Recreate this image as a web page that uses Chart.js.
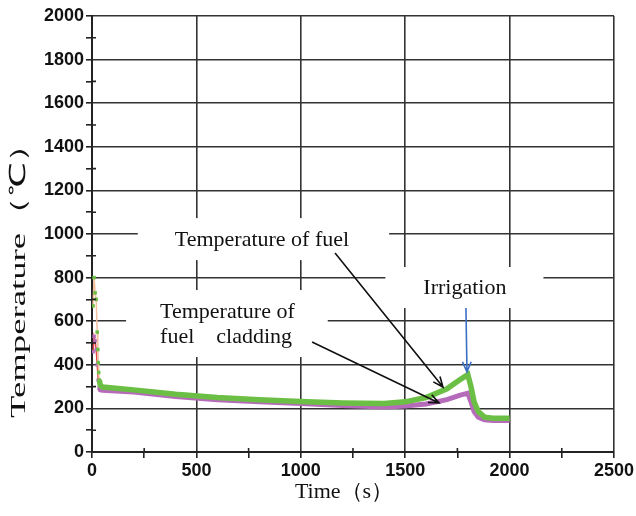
<!DOCTYPE html>
<html>
<head>
<meta charset="utf-8">
<script src="https://cdn.jsdelivr.net/npm/chart.js@4/dist/chart.umd.min.js"></script>
<style>
  body { margin: 0; background: #fff; }
  canvas { display: block; }
</style>
</head>
<body>
<canvas id="main_graphic" width="636" height="516"></canvas>
<script>
// fuel temperature (green curve)
const time_fuel = [5, 10, 15, 20, 25, 28, 30, 32, 35, 40, 50, 200, 400, 600, 800, 1000, 1200, 1400, 1500, 1600, 1700, 1760, 1800, 1815, 1830, 1850, 1880, 1920, 2000]
const temp_fuel = [670, 800, 730, 700, 550, 470, 410, 365, 330, 305, 298, 285, 265, 250, 240, 232, 225, 222, 230, 250, 290, 330, 355, 300, 230, 185, 160, 155, 155]

// cladding temperature (purple curve)
const time_cladding = [5, 10, 15, 20, 25, 30, 35, 40, 50, 200, 400, 600, 800, 1000, 1200, 1400, 1500, 1600, 1700, 1760, 1800, 1815, 1830, 1850, 1880, 1920, 2000]
const temp_cladding = [460, 530, 510, 470, 400, 330, 295, 285, 283, 275, 255, 240, 230, 222, 213, 207, 211, 220, 240, 260, 270, 230, 185, 160, 148, 145, 145]

// labelled ticks
const ticks_x = [0, 500, 1000, 1500, 2000, 2500]
const ticks_y = [0, 200, 400, 600, 800, 1000, 1200, 1400, 1600, 1800, 2000]

const title_x = 'Time（s）'
const title_y = 'Temperature（℃）'

const spike_end = 35
const serif = '"Liberation Serif", "Times New Roman", serif'

const to_points = (xs, ys) => xs.map((x, i) => ({x: x, y: ys[i]}))

// thin connector through the first seconds, thick line afterwards
const thin_segment = (cor) => ({
  borderColor: ctx => ctx.p1.parsed.x <= spike_end ? cor : undefined,
  borderWidth: ctx => ctx.p1.parsed.x <= spike_end ? 1.5 : undefined
})

const spike_radius = ctx => (ctx.raw && ctx.raw.x <= spike_end) ? 2.5 : 0

// text boxes (anchor in data units, box padding in px)
const labels = [
  {lines: ['Temperature of fuel'], x: 814, y: 972, align: 'center', pad: [37, 22, 40, 20]},
  {lines: ['Temperature of', 'fuel    cladding'], x: 326, y: 642, align: 'left', pad: [34, 22, 33, 20]},
  {lines: ['Irrigation'], x: 1786, y: 752, align: 'center', pad: [38, 21, 37, 20]}
]

const arrows = [
  {from: [1164, 913], to: [1681, 298], color: '#111'},
  {from: [1054, 505], to: [1662, 225], color: '#111'},
  {from: [1791, 661], to: [1796, 367], color: '#3b6fc4'}
]

const draw_arrow = (ctx, x0, y0, x1, y1, color) => {
  const ang = Math.atan2(y1 - y0, x1 - x0)
  const head = 11
  ctx.strokeStyle = color
  ctx.lineWidth = 1.6
  ctx.beginPath()
  ctx.moveTo(x0, y0)
  ctx.lineTo(x1, y1)
  ctx.moveTo(x1 - head * Math.cos(ang - 0.4), y1 - head * Math.sin(ang - 0.4))
  ctx.lineTo(x1, y1)
  ctx.lineTo(x1 - head * Math.cos(ang + 0.4), y1 - head * Math.sin(ang + 0.4))
  ctx.stroke()
}

const annotations = {
  id: 'annotations',
  afterDatasetsDraw(chart) {
    const {ctx, scales: {x, y}} = chart
    ctx.save()
    ctx.font = '22px ' + serif
    ctx.textBaseline = 'middle'
    const line_h = 25
    for (const lab of labels) {
      const px = x.getPixelForValue(lab.x)
      const py = y.getPixelForValue(lab.y)
      const w = Math.max(...lab.lines.map(l => ctx.measureText(l).width))
      const left = lab.align === 'center' ? px - w / 2 : px
      const top = py - lab.pad[1]
      const bottom = py + (lab.lines.length - 1) * line_h + lab.pad[3]
      ctx.fillStyle = '#fff'
      ctx.fillRect(left - lab.pad[0], top, w + lab.pad[0] + lab.pad[2], bottom - top)
      ctx.fillStyle = '#111'
      ctx.textAlign = 'left'
      lab.lines.forEach((l, i) => ctx.fillText(l, left, py + i * line_h))
    }
    for (const a of arrows) {
      draw_arrow(ctx,
        x.getPixelForValue(a.from[0]), y.getPixelForValue(a.from[1]),
        x.getPixelForValue(a.to[0]), y.getPixelForValue(a.to[1]), a.color)
    }
    ctx.restore()
  }
}

// short inner marks for the unlabelled ticks, and the axis titles
const extras = {
  id: 'extras',
  afterDraw(chart) {
    const {ctx, chartArea: area, scales: {x, y}} = chart
    ctx.save()
    ctx.strokeStyle = '#222'
    ctx.lineWidth = 1.6
    ctx.beginPath()
    for (const t of x.ticks) {
      if (ticks_x.includes(t.value)) continue
      const px = x.getPixelForValue(t.value)
      ctx.moveTo(px, area.bottom)
      ctx.lineTo(px, area.bottom - 4)
    }
    for (const t of y.ticks) {
      if (ticks_y.includes(t.value)) continue
      const py = y.getPixelForValue(t.value)
      ctx.moveTo(area.left, py)
      ctx.lineTo(area.left + 4, py)
    }
    ctx.stroke()

    ctx.fillStyle = '#111'
    ctx.font = '22px ' + serif
    ctx.textAlign = 'center'
    ctx.textBaseline = 'middle'
    ctx.fillText(title_x, area.left + 252, 492)

    // the vertical title runs longer than its glyph height suggests
    ctx.translate(19, 272)
    ctx.rotate(-Math.PI / 2)
    const w = ctx.measureText(title_y).width
    ctx.scale(292 / w, 1)
    ctx.fillText(title_y, 0, 0)
    ctx.restore()
  }
}

const tick_font = {family: '"Liberation Sans", Arial, sans-serif', size: 18, weight: 'bold'}

const data = {
  datasets: [
    {
      label: 'Temperature of fuel',
      data: to_points(time_fuel, temp_fuel),
      borderColor: '#6cbf45',
      backgroundColor: '#6cbf45',
      borderWidth: 5.5,
      pointStyle: 'rect',
      pointRadius: spike_radius,
      pointBorderWidth: 0,
      segment: thin_segment('#f1c09f'),
      tension: 0
    },
    {
      label: 'Temperature of fuel cladding',
      data: to_points(time_cladding, temp_cladding),
      borderColor: '#b56bb9',
      backgroundColor: '#b56bb9',
      borderWidth: 5,
      pointStyle: 'rect',
      pointRadius: spike_radius,
      pointBorderWidth: 0,
      segment: thin_segment('#e04848'),
      tension: 0
    }
  ]
}

const config = {
  type: 'line',
  data: data,
  options: {
    responsive: false,
    animation: false,
    devicePixelRatio: 1,
    layout: {padding: {top: 16, right: 22, left: 0, bottom: 0}},
    plugins: {legend: {display: false}, tooltip: {enabled: false}},
    scales: {
      x: {
        type: 'linear', min: 0, max: 2500,
        ticks: {
          stepSize: 250, autoSkip: false, maxRotation: 0, padding: 2,
          color: '#111', font: tick_font,
          callback: v => ticks_x.includes(v) ? v : ''
        },
        grid: {
          color: ctx => (ctx.tick && ticks_x.includes(ctx.tick.value)) ? '#333' : 'rgba(0,0,0,0)',
          lineWidth: 1.6, tickLength: 6, tickColor: '#222'
        },
        border: {color: '#222', width: 2},
        afterFit: s => { s.height = 64 }
      },
      y: {
        type: 'linear', min: 0, max: 2000,
        ticks: {
          stepSize: 100, autoSkip: false, padding: 2,
          color: '#111', font: tick_font,
          callback: v => ticks_y.includes(v) ? v : ''
        },
        grid: {
          color: ctx => (ctx.tick && ticks_y.includes(ctx.tick.value)) ? '#333' : 'rgba(0,0,0,0)',
          lineWidth: 1.6, tickLength: 6, tickColor: '#222'
        },
        border: {color: '#222', width: 2},
        afterFit: s => { s.width = 92 }
      }
    }
  },
  plugins: [annotations, extras]
}

var myChart = new Chart(document.getElementById('main_graphic'), config)
</script>
</body>
</html>
